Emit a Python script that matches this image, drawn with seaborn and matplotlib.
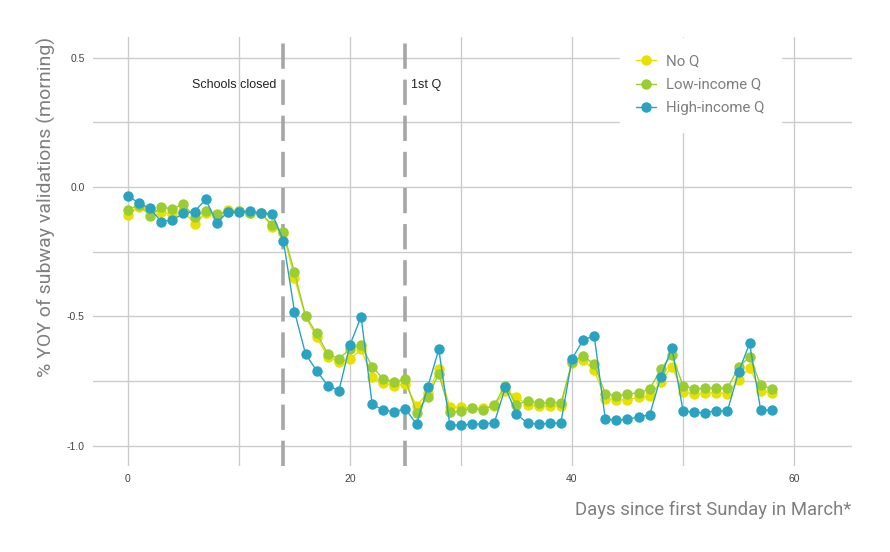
import matplotlib
matplotlib.use("Agg")
import matplotlib.pyplot as plt
import seaborn as sns
import pandas as pd
import numpy as np

days = list(range(59))

no_q = [-0.108, -0.076, -0.086, -0.098, -0.104, -0.092, -0.144, -0.102, -0.112, -0.089,
        -0.092, -0.099, -0.102, -0.153, -0.179, -0.353, -0.500, -0.582, -0.656, -0.676,
        -0.667, -0.628, -0.734, -0.759, -0.770, -0.763, -0.847, -0.796, -0.704, -0.852,
        -0.852, -0.856, -0.856, -0.846, -0.788, -0.811, -0.843, -0.847, -0.847, -0.847,
        -0.682, -0.669, -0.708, -0.820, -0.824, -0.822, -0.814, -0.809, -0.754, -0.695,
        -0.792, -0.801, -0.796, -0.796, -0.799, -0.747, -0.699, -0.789, -0.796]

low_q = [-0.088, -0.070, -0.111, -0.079, -0.084, -0.067, -0.115, -0.093, -0.104, -0.097,
         -0.092, -0.099, -0.102, -0.147, -0.175, -0.330, -0.500, -0.566, -0.646, -0.664,
         -0.627, -0.611, -0.695, -0.743, -0.753, -0.743, -0.875, -0.811, -0.723, -0.871,
         -0.867, -0.856, -0.863, -0.842, -0.768, -0.842, -0.827, -0.837, -0.833, -0.837,
         -0.678, -0.653, -0.686, -0.799, -0.807, -0.801, -0.796, -0.782, -0.704, -0.650,
         -0.768, -0.781, -0.778, -0.777, -0.779, -0.698, -0.656, -0.766, -0.781]

high_q = [-0.034, -0.063, -0.083, -0.134, -0.128, -0.102, -0.095, -0.048, -0.138, -0.097,
          -0.098, -0.092, -0.102, -0.104, -0.208, -0.482, -0.646, -0.711, -0.768, -0.788,
          -0.611, -0.502, -0.840, -0.863, -0.869, -0.859, -0.917, -0.775, -0.628, -0.921,
          -0.921, -0.917, -0.917, -0.912, -0.775, -0.878, -0.914, -0.917, -0.914, -0.912,
          -0.665, -0.592, -0.575, -0.898, -0.901, -0.899, -0.889, -0.881, -0.734, -0.622,
          -0.865, -0.872, -0.873, -0.865, -0.866, -0.717, -0.605, -0.863, -0.863]

groups = ["No Q", "Low-income Q", "High-income Q"]
palette = {"No Q": "#e8e000", "Low-income Q": "#9acd32", "High-income Q": "#2aa3c2"}

events = [14, 25]
event_labels = ["Schools closed", "1st Q"]

df = pd.DataFrame({
    "day": days * 3,
    "yoy": no_q + low_q + high_q,
    "group": [g for g in groups for _ in days],
})

sns.set_theme(style="white")
plt.rcParams['font.family'] = ['Liberation Sans', 'DejaVu Sans']

fig = plt.figure(figsize=(8.9, 5.52), dpi=100)
ax = fig.add_axes([0.1045, 0.1563, 0.8525, 0.7772])

# ggplot-like grid, major and minor drawn the same
grid_c = "#cccccc"
for xv in range(0, 61, 10):
    ax.axvline(xv, color=grid_c, lw=1.0, zorder=0)
for yv in np.arange(-1.0, 0.51, 0.25):
    ax.axhline(yv, color=grid_c, lw=1.0, zorder=0)

sns.lineplot(data=df, x="day", y="yoy", hue="group", hue_order=groups,
             palette=palette, marker="o", markersize=7.5, markeredgewidth=0,
             linewidth=1.0, ax=ax, zorder=3)

for xv in events:
    ax.axvline(xv, color="#a6a6a6", lw=2.6, ls=(0, (7, 3)), zorder=2)
ax.text(events[0] - 0.6, 0.395, event_labels[0], ha="right", va="center",
        fontsize=9, color="#222222")
ax.text(events[1] + 0.5, 0.395, event_labels[1], ha="left", va="center",
        fontsize=9, color="#222222")

ax.set_xlim(-3.15, 65.2)
ax.set_ylim(-1.078, 0.581)
ax.set_xticks([0, 20, 40, 60])
ax.set_yticks([-1.0, -0.5, 0.0, 0.5])
ax.set_yticklabels(["-1.0", "-0.5", "0.0", "0.5"])
ax.tick_params(axis="both", labelsize=7.5, colors="#444444", length=0, pad=6)
for s in ax.spines.values():
    s.set_visible(False)

lab_font = ['Roboto', 'DejaVu Sans']
ax.set_xlabel("Days since first Sunday in March*", fontsize=13.3, color="#7f7f7f",
              family=lab_font, loc="right", labelpad=12)
ax.set_ylabel("% YOY of subway validations (morning)", fontsize=14, color="#7f7f7f",
              family=lab_font, loc="top", labelpad=8)

leg = ax.legend(title=None, loc="upper right", bbox_to_anchor=(0.907, 0.997),
                borderaxespad=0, frameon=True, labelspacing=0.62, handlelength=1.3,
                handletextpad=0.7, borderpad=1.1,
                prop={"family": lab_font, "size": 10.8})
leg.get_frame().set_facecolor("white")
leg.get_frame().set_edgecolor("white")
leg.get_frame().set_alpha(1.0)
leg.get_frame().set_boxstyle("square", pad=0)
for t in leg.get_texts():
    t.set_color("#7f7f7f")

plt.savefig("out.png", dpi=100)
